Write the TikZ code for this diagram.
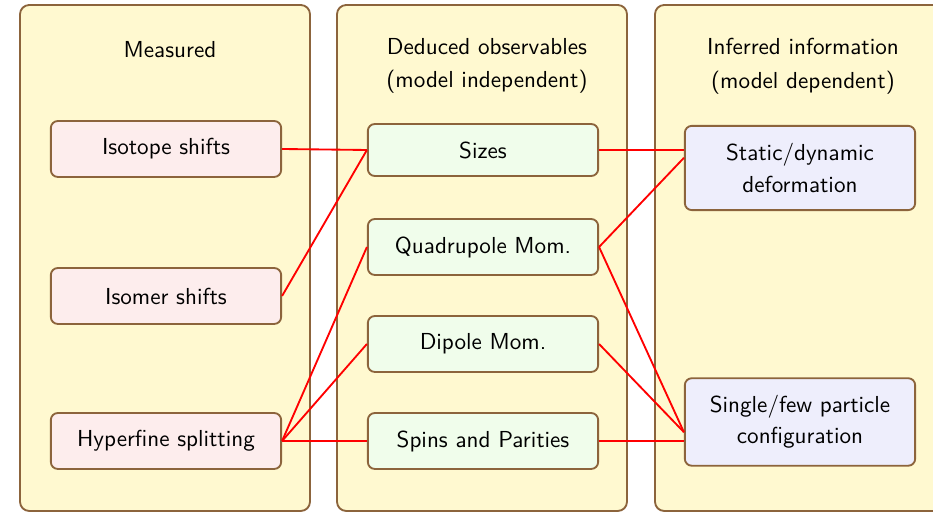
\documentclass[tikz,border=0pt]{standalone}
\usetikzlibrary{positioning}
\definecolor{panelfill}{RGB}{255,249,208}
\definecolor{panelline}{RGB}{140,100,60}
\definecolor{measfill}{RGB}{253,237,237}
\definecolor{dedfill}{RGB}{240,253,235}
\definecolor{inffill}{RGB}{238,238,252}
\tikzstyle{panel}=[draw=panelline,fill=panelfill,thick,rounded corners=4pt]
\tikzstyle{title}=[align=center,font=\sffamily]
\tikzstyle{box}=[draw=panelline,thick,rounded corners=3pt,align=center,font=\sffamily,minimum width=3.5cm,minimum height=0.85cm]
\tikzstyle{link}=[red,thick]

\begin{document}
\begin{tikzpicture}[x=0.0152cm, y=-0.0152cm]
	\useasboundingbox (0,0) rectangle (933,513);
	\clip (0,0) rectangle (933,513);
	%panels
	\draw[panel] (20,5) rectangle (310,511);
	\draw[panel] (337,5) rectangle (627,511);
	\draw[panel] (655,5) rectangle (960,511);
	%titles
	\node[title] (tmeas) at (170,50) {Measured};
	\node[title] (tded) at (487,66) {Deduced observables\\[2.5pt](model independent)};
	\node[title] (tinf) at (803,66) {Inferred information\\[2.5pt](model dependent)};
	%measured
	\node[box,fill=measfill] (iso) at (166,149) {Isotope shifts};
	\node[box,fill=measfill] (isom) at (166,296) {Isomer shifts};
	\node[box,fill=measfill] (hfs) at (166,441) {Hyperfine splitting};
	%deduced
	\node[box,fill=dedfill,minimum height=0.79cm] (size) at (483,150) {Sizes};
	\node[box,fill=dedfill] (quad) at (483,247) {Quadrupole Mom.};
	\node[box,fill=dedfill] (dip) at (483,344) {Dipole Mom.};
	\node[box,fill=dedfill] (spin) at (483,441) {Spins and Parities};
	%inferred
	\node[box,fill=inffill,minimum height=1.28cm] (stat) at (800,168) {Static/dynamic\\[1.5pt]deformation};
	\node[box,fill=inffill,minimum height=1.33cm] (sing) at (800,422) {Single/few particle\\[1.5pt]configuration};
	%links
	\draw[link] (iso.east) -- (size.west);
	\draw[link] (isom.east) -- (size.west);
	\draw[link] (hfs.east) -- (quad.west);
	\draw[link] (hfs.east) -- (dip.west);
	\draw[link] (hfs.east) -- (spin.west);
	\draw[link] (size.east) -- (size.east -| stat.west);
	\draw[link] (quad.east) -- (stat.175);
	\draw[link] (quad.east) -- (sing.185);
	\draw[link] (dip.east) -- (sing.185);
	\draw[link] (spin.east) -- (spin.east -| sing.west);
\end{tikzpicture}
\end{document}
